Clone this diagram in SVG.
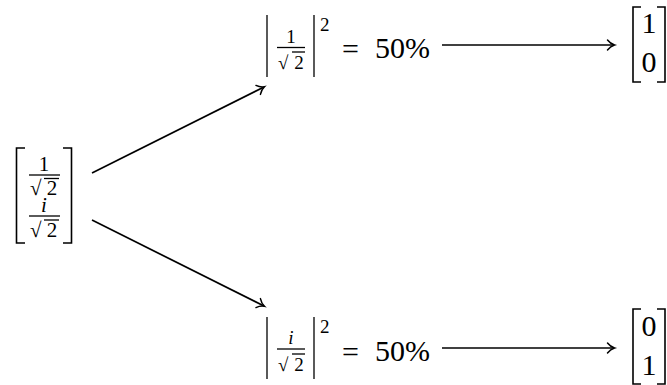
<svg xmlns="http://www.w3.org/2000/svg" width="667" height="385" viewBox="0 0 667 385">
<style>
text{font-family:'Liberation Serif',serif;fill:#000}
.big{font-size:30px}
.fr{font-size:21px}
.sm{font-size:19px}
.ln{stroke:#000;stroke-width:1.3;fill:none}
.ar{stroke:#000;stroke-width:1.7;fill:none}
.br{stroke:#000;stroke-width:1.6;fill:none}
.it{font-style:italic}
</style>
<defs>
<marker id="ah" markerWidth="14" markerHeight="14" refX="10" refY="7" orient="auto" markerUnits="userSpaceOnUse">
<path d="M3.5,2 Q6.5,5.8 10.5,7 Q6.5,8.2 3.5,12" fill="none" stroke="#000" stroke-width="1.5" stroke-linecap="round"/>
</marker>
</defs>
<rect width="667" height="385" fill="#fff"/>
<g id="psi">
<path class="br" d="M25,148 H16.5 V243 H25"/>
<path class="br" d="M63,148 H71.5 V243 H63"/>
<text class="fr" x="44" y="171" text-anchor="middle">1</text>
<line class="ln" x1="29" y1="175" x2="60" y2="175"/>
<text class="fr" x="30" y="195">√</text>
<line class="ln" x1="44" y1="178.5" x2="59" y2="178.5"/>
<text class="fr" x="52" y="195" text-anchor="middle">2</text>
<text class="fr it" x="44" y="212" text-anchor="middle">i</text>
<line class="ln" x1="29" y1="216" x2="60" y2="216"/>
<text class="fr" x="30" y="237">√</text>
<line class="ln" x1="44" y1="220" x2="59" y2="220"/>
<text class="fr" x="52" y="237" text-anchor="middle">2</text>
</g>
<g id="p0">
<line class="ln" x1="267" y1="15" x2="267" y2="77"/>
<line class="ln" x1="314" y1="15" x2="314" y2="77"/>
<text class="sm" x="291" y="43" text-anchor="middle">1</text>
<line class="ln" x1="277" y1="47.5" x2="305" y2="47.5"/>
<text class="sm" x="278" y="69">√</text>
<line class="ln" x1="292" y1="52" x2="305" y2="52"/>
<text class="sm" x="299" y="69" text-anchor="middle">2</text>
<text class="sm" x="320" y="31">2</text>
<text class="big" x="342" y="59">=</text>
<text class="big" x="375" y="58">50%</text>
</g>
<g id="v0">
<path class="br" d="M641,7 H633 V82 H641"/>
<path class="br" d="M657,7 H665 V82 H657"/>
<text class="big" x="649" y="33" text-anchor="middle">1</text>
<text class="big" x="649" y="72" text-anchor="middle">0</text>
</g>
<g id="p1">
<line class="ln" x1="267" y1="317" x2="267" y2="379"/>
<line class="ln" x1="314" y1="317" x2="314" y2="379"/>
<text class="sm it" x="291" y="344" text-anchor="middle">i</text>
<line class="ln" x1="277" y1="349" x2="305" y2="349"/>
<text class="sm" x="278" y="371">√</text>
<line class="ln" x1="292" y1="354" x2="305" y2="354"/>
<text class="sm" x="299" y="371" text-anchor="middle">2</text>
<text class="sm" x="320" y="333">2</text>
<text class="big" x="342" y="362">=</text>
<text class="big" x="375" y="361">50%</text>
</g>
<g id="v1">
<path class="br" d="M641,309 H633 V384 H641"/>
<path class="br" d="M657,309 H665 V384 H657"/>
<text class="big" x="649" y="336" text-anchor="middle">0</text>
<text class="big" x="649" y="375" text-anchor="middle">1</text>
</g>
<g id="connectors">
<line class="ar" x1="92" y1="173" x2="264" y2="87" marker-end="url(#ah)"/>
<line class="ar" x1="92" y1="220" x2="264" y2="306" marker-end="url(#ah)"/>
<line class="ar" x1="442" y1="45" x2="614" y2="45" marker-end="url(#ah)"/>
<line class="ar" x1="442" y1="348" x2="614" y2="348" marker-end="url(#ah)"/>
</g>
</svg>
